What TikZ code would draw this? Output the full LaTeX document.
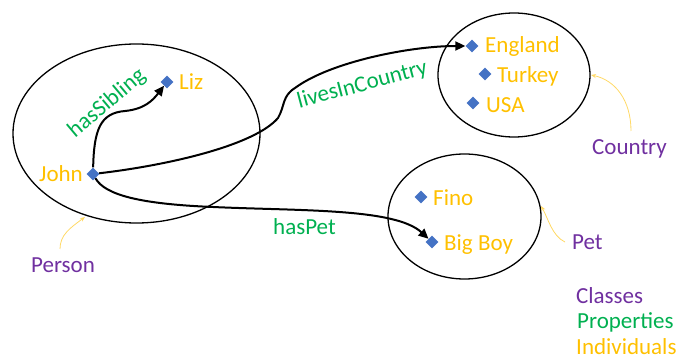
\documentclass[tikz,border=0pt]{standalone}
\usepackage{fontspec}
\setmainfont{Carlito}
\usetikzlibrary{shapes.geometric,arrows.meta}
\definecolor{indiv}{HTML}{FFC000}
\definecolor{prop}{HTML}{00B050}
\definecolor{cls}{HTML}{7030A0}
\definecolor{dia}{HTML}{4472C4}
\definecolor{ptr}{HTML}{FFD966}
\tikzset{
  classell/.style={draw=black,line width=1.3pt,ellipse,inner sep=0pt},
  indiv/.style={shape=diamond,fill=dia,draw=none,minimum width=13pt,minimum height=13pt,inner sep=0pt},
  itext/.style={text=indiv,font=\fontsize{23}{27}\selectfont,inner sep=0pt,anchor=base west},
  ptext/.style={text=prop,font=\fontsize{23}{27}\selectfont,inner sep=0pt,anchor=base},
  ctext/.style={text=cls,font=\fontsize{23}{27}\selectfont,inner sep=0pt,anchor=base west},
  conn/.style={draw=black,line width=2pt,-{Triangle[length=10pt,width=9pt]}},
  pointer/.style={draw=ptr,line width=0.8pt,-{Stealth[length=5pt,width=4pt]}}
}
\begin{document}
\begin{tikzpicture}[x=1pt,y=-1pt]
\useasboundingbox (0,0) rectangle (681,358);
% classes
\node[classell,minimum width=247pt,minimum height=179pt] (person) at (136.5,133.5) {};
\node[classell,minimum width=152pt,minimum height=124pt] (country) at (514,75) {};
\node[classell,minimum width=153pt,minimum height=125pt] (pet) at (464.5,216.5) {};
% individuals
\node[indiv] (john) at (93,174) {};
\node[indiv] (liz) at (167,82) {};
\node[indiv] (eng) at (472,46) {};
\node[indiv] (tur) at (485,74) {};
\node[indiv] (usa) at (473,103) {};
\node[indiv] (fino) at (421,197) {};
\node[indiv] (bigboy) at (432,242) {};
% individual labels
\node[itext,anchor=base east] (johnl) at (83,182) {John};
\node[itext] (lizl) at (179,90) {Liz};
\node[itext] (engl) at (485,53) {England};
\node[itext] (turl) at (497,83) {Turkey};
\node[itext] (usal) at (486,112.5) {USA};
\node[itext] (finol) at (433,206) {Fino};
\node[itext] (bigboyl) at (444,251) {Big Boy};
% class labels
\node[ctext] (personl) at (31,273) {Person};
\node[ctext] (countryl) at (592,155) {Country};
\node[ctext] (petl) at (572,250) {Pet};
% legend
\node[ctext] (lc) at (576,304) {Classes};
\node[ctext,text=prop] (lp) at (577,329) {Properties};
\node[ctext,text=indiv] (li) at (576,355) {Individuals};
% property labels
\node[ptext,rotate=40] (sibl) at (111,108) {hasSibling};
\node[ptext,rotate=15] (livl) at (364,91) {livesInCountry};
\node[ptext,anchor=base west] (petpl) at (273,235) {hasPet};
% connectors
\draw[conn] (john) .. controls (94,130) and (100,113) .. (125,111)
  .. controls (145,109) and (153,100) .. (liz);
\draw[conn] (john) .. controls (170,165) and (255,145) .. (278,118)
  .. controls (285,106) and (282,96) .. (295,88)
  .. controls (330,62) and (410,46) .. (eng);
\draw[conn] (john) .. controls (105,195) and (140,204) .. (213,207)
  .. controls (300,211) and (395,208) .. (bigboy);
% pointers
\coordinate (pp) at (60,249);
\coordinate (pc) at (631,131);
\coordinate (pt) at (565,242);
\draw[pointer] (pp) .. controls (60,235) and (70,228) .. (85,217);
\draw[pointer] (pc) .. controls (631,100) and (615,80) .. (591,75);
\draw[pointer] (pt) .. controls (552,236) and (548,218) .. (541,206);
\end{tikzpicture}
\end{document}
